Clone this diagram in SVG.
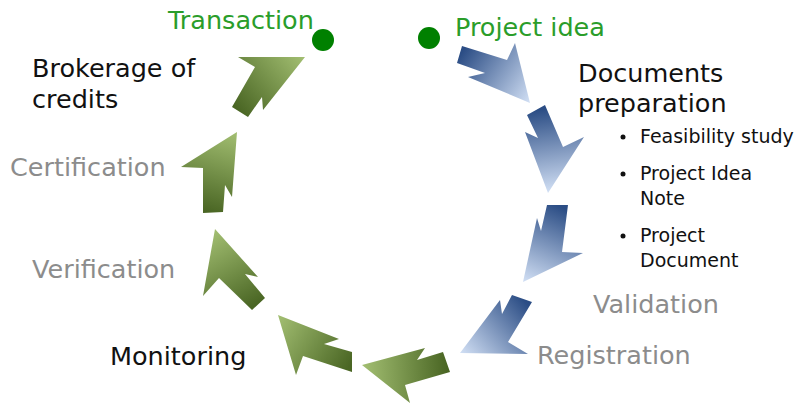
<svg xmlns="http://www.w3.org/2000/svg" width="800" height="405" viewBox="0 0 800 405">
<style>
.lbl{font-family:"DejaVu Sans",sans-serif;font-size:25.5px}
.sm{font-family:"DejaVu Sans",sans-serif;font-size:19px;fill:#111}
.blk{fill:#111}
.grn{fill:#2a9d2a}
.gry{fill:#8c8c8c}
.dot{fill:#008000}
</style>
<defs>
<linearGradient id="b1" gradientUnits="userSpaceOnUse" x1="460" y1="55" x2="530" y2="103"><stop offset="0" stop-color="#2b4d85"/><stop offset="1" stop-color="#d2e0f5"/></linearGradient>
<linearGradient id="b2" gradientUnits="userSpaceOnUse" x1="536" y1="110" x2="548" y2="193"><stop offset="0" stop-color="#2b4d85"/><stop offset="1" stop-color="#d2e0f5"/></linearGradient>
<linearGradient id="b3" gradientUnits="userSpaceOnUse" x1="557" y1="205" x2="523" y2="282"><stop offset="0" stop-color="#2b4d85"/><stop offset="1" stop-color="#d2e0f5"/></linearGradient>
<linearGradient id="b4" gradientUnits="userSpaceOnUse" x1="522" y1="298" x2="460" y2="353"><stop offset="0" stop-color="#2b4d85"/><stop offset="1" stop-color="#d2e0f5"/></linearGradient>
<linearGradient id="g5" gradientUnits="userSpaceOnUse" x1="447" y1="362" x2="362" y2="365"><stop offset="0" stop-color="#4a6624"/><stop offset="1" stop-color="#a3bf72"/></linearGradient>
<linearGradient id="g6" gradientUnits="userSpaceOnUse" x1="352" y1="362" x2="278" y2="315"><stop offset="0" stop-color="#4a6624"/><stop offset="1" stop-color="#a3bf72"/></linearGradient>
<linearGradient id="g7" gradientUnits="userSpaceOnUse" x1="256" y1="304" x2="215" y2="229"><stop offset="0" stop-color="#4a6624"/><stop offset="1" stop-color="#a3bf72"/></linearGradient>
<linearGradient id="g8" gradientUnits="userSpaceOnUse" x1="213" y1="213" x2="237" y2="132"><stop offset="0" stop-color="#4a6624"/><stop offset="1" stop-color="#a3bf72"/></linearGradient>
<linearGradient id="g9" gradientUnits="userSpaceOnUse" x1="240" y1="112" x2="305" y2="57"><stop offset="0" stop-color="#4a6624"/><stop offset="1" stop-color="#a3bf72"/></linearGradient>
</defs>
<g id="connectors">
<polygon fill="url(#b1)" points="462,46 507,60 515,43 530,103 468,77 485,73 457,63"/>
<polygon fill="url(#b2)" points="527,115 545,105 563,147 584,137 548,193 525,132 538,138"/>
<polygon fill="url(#b3)" points="547,205 568,205 562,252 583,253 523,282 537,218 541,231"/>
<polygon fill="url(#b4)" points="512,295 532,302 508,342 528,354 460,353 500,300 502,314"/>
<polygon fill="url(#g5)" points="362,365 425,348 417,360 443,352 450,372 405,385 410,403"/>
<polygon fill="url(#g6)" points="278,315 339,339 324,344 352,352 352,372 303,356 296,375"/>
<polygon fill="url(#g7)" points="215,229 258,277 245,274 265,298 252,310 219,278 203,296"/>
<polygon fill="url(#g8)" points="237,132 232,197 225,185 223,212 203,213 203,168 181,167"/>
<polygon fill="url(#g9)" points="305,57 263,110 262,97 248,117 232,107 255,67 238,57"/>
</g>
<g id="transaction"><circle class="dot" cx="323" cy="40" r="11"/><text class="lbl grn" x="168" y="29">Transaction</text></g>
<g id="project-idea"><circle class="dot" cx="429" cy="38" r="11"/><text class="lbl grn" x="455" y="36">Project idea</text></g>
<g id="brokerage"><text class="lbl blk" x="32" y="77">Brokerage of</text><text class="lbl blk" x="32" y="108">credits</text></g>
<g id="documents"><text class="lbl blk" x="578" y="82">Documents</text><text class="lbl blk" x="578" y="112">preparation</text>
<circle cx="623" cy="137" r="2.5" fill="#111"/><text class="sm" x="640" y="143">Feasibility study</text>
<circle cx="623" cy="174" r="2.5" fill="#111"/><text class="sm" x="640" y="180">Project Idea</text><text class="sm" x="640" y="205">Note</text>
<circle cx="623" cy="236" r="2.5" fill="#111"/><text class="sm" x="640" y="242">Project</text><text class="sm" x="640" y="267">Document</text></g>
<g id="validation"><text class="lbl gry" x="593" y="313">Validation</text></g>
<g id="registration"><text class="lbl gry" x="537" y="364">Registration</text></g>
<g id="monitoring"><text class="lbl blk" x="110" y="365">Monitoring</text></g>
<g id="verification"><text class="lbl gry" x="32" y="278">Verification</text></g>
<g id="certification"><text class="lbl gry" x="10" y="176">Certification</text></g>
</svg>
